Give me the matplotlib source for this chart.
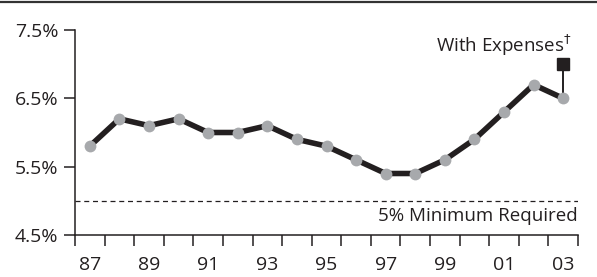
import matplotlib
matplotlib.use("Agg")
import matplotlib.pyplot as plt
from matplotlib.lines import Line2D

years = list(range(1987, 2004))
returns = [5.8, 6.2, 6.1, 6.2, 6.0, 6.0, 6.1, 5.9, 5.8, 5.6, 5.4, 5.4, 5.6, 5.9, 6.3, 6.7, 6.5]
expense_year = 2003
expense_value = 7.0
minimum_required = 5.0
y_ticks = [4.5, 5.5, 6.5, 7.5]
x_labels = ["87", "89", "91", "93", "95", "97", "99", "01", "03"]

ink = "#231f20"
plt.rcParams["font.family"] = ["Open Sans", "DejaVu Sans"]

fig = plt.figure(figsize=(5.97, 2.77), dpi=100)
ax = fig.add_axes([75 / 597, 1 - 235 / 277, (578 - 75) / 597, (235 - 30) / 277])

# top rule across the whole figure
fig.add_artist(Line2D([0, 1], [1 - 1.5 / 277, 1 - 1.5 / 277], transform=fig.transFigure,
                      color="#333333", lw=1.6))

ax.axhline(minimum_required, color=ink, lw=0.9, ls=(0, (4, 3)))
ax.plot([expense_year, expense_year], [returns[-1], expense_value], color=ink, lw=1.4, zorder=2)
ax.plot(expense_year, expense_value, marker="s", ms=8, color=ink, zorder=4)
ax.plot(years, returns, color=ink, lw=4, zorder=3, solid_capstyle="round")
ax.plot(years, returns, ls="None", marker="o", ms=8.5, mfc="#a7a9ac", mec="none", zorder=5)

ax.set_xlim(1986.5, 2003.5)
ax.set_ylim(4.5, 7.5)
ax.set_yticks(y_ticks)
ax.set_yticklabels([f"{v:.1f}%" for v in y_ticks], fontsize=14, color=ink)
ax.set_xticks([y + 0.5 for y in range(1986, 2004)])
ax.set_xticklabels([])
ax.set_xticks(list(range(1987, 2004, 2)), minor=True)
ax.set_xticklabels(x_labels, minor=True, fontsize=14, color=ink)
ax.tick_params(axis="x", which="major", direction="out", length=8, width=1.1, color=ink)
ax.tick_params(axis="x", which="minor", length=0, pad=15)
ax.tick_params(axis="y", direction="out", length=8, width=1.1, color=ink, pad=4)

for side in ["top", "right"]:
    ax.spines[side].set_visible(False)
for side in ["left", "bottom"]:
    ax.spines[side].set_color(ink)
    ax.spines[side].set_linewidth(1.1)

ax.text(2003.3, 7.28, "With Expenses$^{\\dagger}$", ha="right", va="center", fontsize=13.5, color=ink)
ax.text(2003.5, 4.78, "5% Minimum Required", ha="right", va="center", fontsize=13.5, color=ink)

fig.savefig("out.png", dpi=100)
